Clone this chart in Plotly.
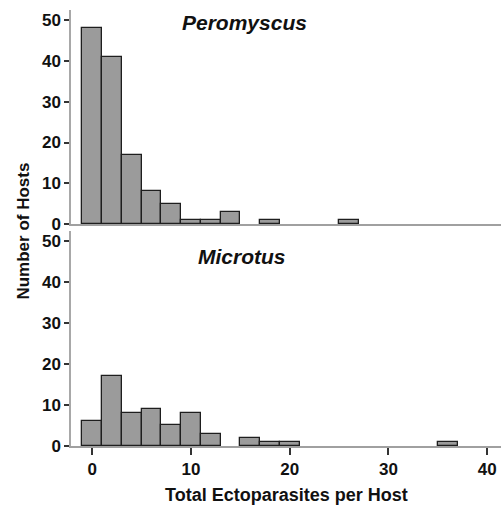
import plotly.graph_objects as go
from plotly.subplots import make_subplots

bin_centers = [0, 2, 4, 6, 8, 10, 12, 14, 16, 18, 20, 22, 24, 26, 28, 30, 32, 34, 36]
peromyscus = [48, 41, 17, 8, 5, 1, 1, 3, 0, 1, 0, 0, 0, 1, 0, 0, 0, 0, 0]
microtus = [6, 17, 8, 9, 5, 8, 3, 0, 2, 1, 1, 0, 0, 0, 0, 0, 0, 0, 1]
y_ticks = [0, 10, 20, 30, 40, 50]
x_ticks = [0, 10, 20, 30, 40]

FONT = "Liberation Sans, Arial, sans-serif"
fig = make_subplots(rows=2, cols=1, shared_xaxes=False, vertical_spacing=0.0)

bar_style = dict(marker=dict(color="#9b9b9b", line=dict(color="#1e1e1e", width=1.3)),
                 width=2, showlegend=False)
px = [c for c, v in zip(bin_centers, peromyscus) if v > 0]
py = [v for v in peromyscus if v > 0]
mx = [c for c, v in zip(bin_centers, microtus) if v > 0]
my = [v for v in microtus if v > 0]
fig.add_trace(go.Bar(x=px, y=py, **bar_style), row=1, col=1)
fig.add_trace(go.Bar(x=mx, y=my, **bar_style), row=2, col=1)

tickfont = dict(family=FONT, size=17, color="#111", weight="bold")
xr = [-2.15, 41.4]
yr = [0, 52.5]
common_x = dict(range=xr, showgrid=False, zeroline=False, showline=True,
                linecolor="#a0a0a0", linewidth=1.5, tickvals=x_ticks,
                tickfont=tickfont, automargin=False)
fig.update_xaxes(**common_x, showticklabels=False, ticks="", row=1, col=1)
fig.update_xaxes(**common_x, ticks="outside", ticklen=7, tickwidth=2, tickcolor="#333",
                 row=2, col=1)
common_y = dict(range=yr, showgrid=False, zeroline=False, showline=True,
                linecolor="#a8a8a8", linewidth=1.5, tickvals=y_ticks,
                ticks="outside", ticklen=5, tickwidth=2, tickcolor="#333",
                tickfont=tickfont, automargin=False)
fig.update_yaxes(**common_y, domain=[0.509, 1.0], row=1, col=1)
fig.update_yaxes(**common_y, domain=[0.0, 0.493], row=2, col=1)

fig.add_annotation(text="<b><i>Peromyscus</i></b>", xref="x", yref="y", x=15.4, y=49.4,
                   showarrow=False, font=dict(family=FONT, size=21, color="#111"))
fig.add_annotation(text="<b><i>Microtus</i></b>", xref="x2", yref="y2", x=15.2, y=46.2,
                   showarrow=False, font=dict(family=FONT, size=21, color="#111"))
fig.add_annotation(text="<b>Number of Hosts</b>", xref="paper", yref="paper",
                   x=-0.1105, y=0.493, textangle=-90, showarrow=False,
                   xanchor="center", yanchor="middle",
                   font=dict(family=FONT, size=17, color="#111"))
fig.add_annotation(text="<b>Total Ectoparasites per Host</b>", xref="paper", yref="paper",
                   x=0.5, y=0, yshift=-49, showarrow=False,
                   xanchor="center", yanchor="middle",
                   font=dict(family=FONT, size=18, color="#111"))

fig.update_layout(width=502, height=505, margin=dict(l=71, r=1, t=10, b=59, autoexpand=False),
                  plot_bgcolor="white", paper_bgcolor="white", bargap=0, hovermode=False)
fig.write_html("out.html", config={"displayModeBar": False},
               post_script="document.body.style.margin='0px';document.body.style.overflow='hidden';")
